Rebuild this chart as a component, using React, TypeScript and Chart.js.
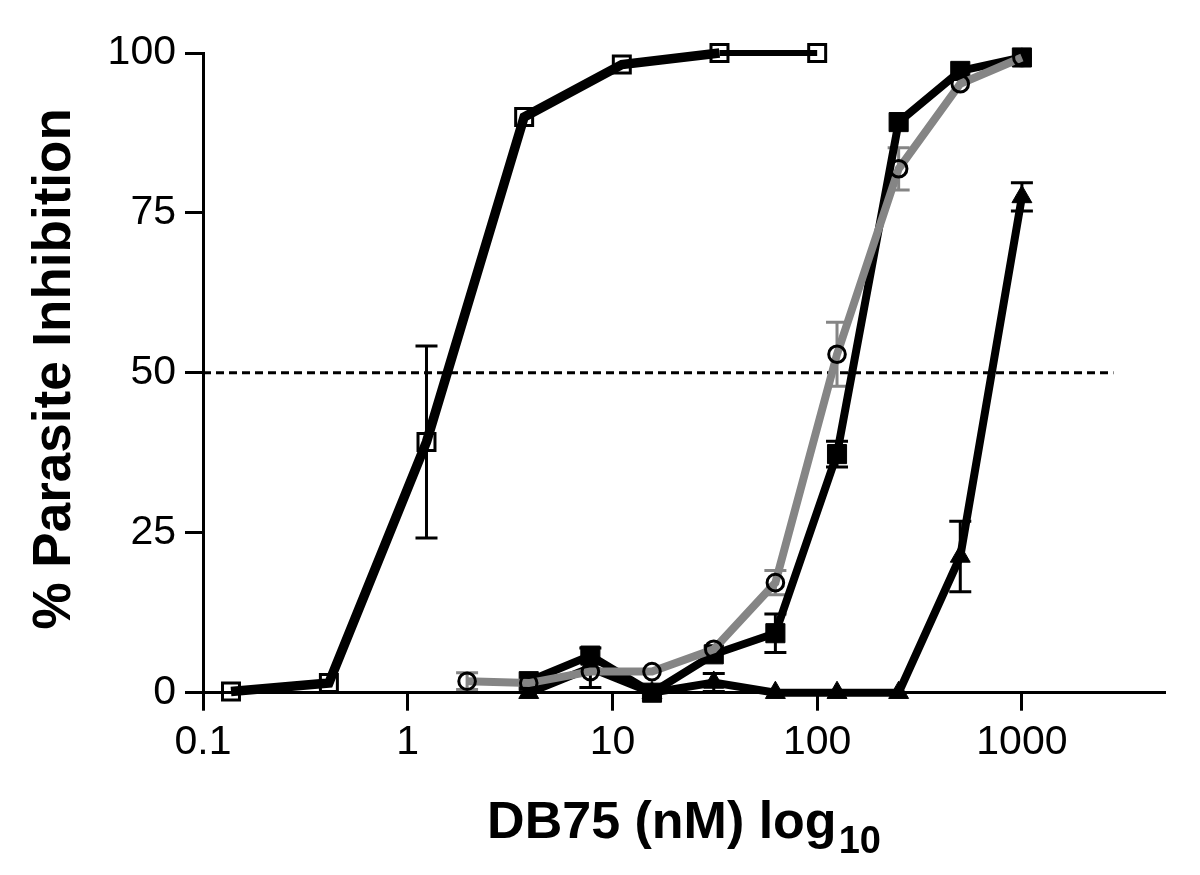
import React, { useEffect, useRef } from 'react';
import { Chart, registerables } from 'chart.js';

Chart.register(...registerables);

// ---- tick labels ----
const xTickValues = [0.1, 1, 10, 100, 1000];
const yTickValues = [0, 25, 50, 75, 100];

// ---- titles ----
const xTitleMain = 'DB75 (nM) log';
const xTitleSub = '10';
const yTitle = '% Parasite Inhibition';

// ---- series: open squares ----
const openSqDose = [0.137, 0.412, 1.235, 3.704, 11.11, 33.33, 100];
const openSqValue = [0.2, 1.5, 39.2, 90, 98.2, 100, 100];
const openSqSD = [0, 0, 15, 0, 0, 0, 0];

// ---- series: grey open circles ----
const circleDose = [1.95, 3.9, 7.8, 15.6, 31.25, 62.5, 125, 250, 500, 1000];
const circleValue = [1.8, 1.5, 3.3, 3.3, 6.8, 17.2, 52.9, 81.9, 95.2, 99.3];
const circleSD = [1.3, 0, 0, 0, 0, 1.9, 5, 3.3, 0, 0];

// ---- series: filled squares ----
const filledSqDose = [3.9, 7.8, 15.6, 31.25, 62.5, 125, 250, 500, 1000];
const filledSqValue = [1.8, 5.8, 0, 6, 9.3, 37.3, 89.2, 97.2, 99.3];
const filledSqSD = [0, 0, 0, 0, 3, 2, 0, 0, 0];

// ---- series: filled triangles ----
const triDose = [3.9, 7.8, 15.6, 31.25, 62.5, 125, 250, 500, 1000];
const triValue = [0, 3.9, 0, 1.6, 0, 0, 0, 21.3, 77.5];
const triSD = [0, 3.1, 0, 1.4, 0, 0, 0, 5.5, 2.2];

// ---- 50% reference line ----
const refLineX = [0.1, 2800];
const refLineY = [50, 50];

const FONT = '"Liberation Sans", Arial, Helvetica, sans-serif';
const GREY = '#858585';

const pts = (xs: number[], ys: number[]) => xs.map((x, i) => ({ x, y: ys[i] }));

const errorBarPlugin = {
  id: 'errorBars',
  beforeDatasetsDraw(chart: any) {
    const { ctx } = chart;
    const xs = chart.scales.x;
    const ys = chart.scales.y;
    ctx.save();
    chart.data.datasets.forEach((ds: any) => {
      if (!ds.errorBars) return;
      ctx.strokeStyle = ds.borderColor;
      ctx.lineWidth = 3;
      ds.data.forEach((p: any, i: number) => {
        const sd = ds.errorBars[i];
        if (!sd) return;
        const x = xs.getPixelForValue(p.x);
        const yT = ys.getPixelForValue(p.y + sd);
        const yB = ys.getPixelForValue(p.y - sd);
        ctx.beginPath();
        ctx.moveTo(x, yT);
        ctx.lineTo(x, yB);
        ctx.moveTo(x - 11, yT);
        ctx.lineTo(x + 11, yT);
        ctx.moveTo(x - 11, yB);
        ctx.lineTo(x + 11, yB);
        ctx.stroke();
      });
    });
    ctx.restore();
  },
};

const titlePlugin = {
  id: 'titles',
  afterDraw(chart: any) {
    const { ctx, chartArea } = chart;
    ctx.save();
    ctx.fillStyle = '#000';
    ctx.textAlign = 'left';
    ctx.textBaseline = 'alphabetic';
    ctx.font = `bold 52px ${FONT}`;
    const w1 = ctx.measureText(xTitleMain).width;
    ctx.font = `bold 38px ${FONT}`;
    const w2 = ctx.measureText(xTitleSub).width;
    const cx = (chartArea.left + chartArea.right) / 2;
    const x0 = cx - (w1 + w2 + 2) / 2;
    ctx.font = `bold 52px ${FONT}`;
    ctx.fillText(xTitleMain, x0, chartArea.bottom + 145);
    ctx.font = `bold 38px ${FONT}`;
    ctx.fillText(xTitleSub, x0 + w1 + 2, chartArea.bottom + 160);

    ctx.translate(70, (chartArea.top + chartArea.bottom) / 2 - 4);
    ctx.rotate(-Math.PI / 2);
    ctx.textAlign = 'center';
    ctx.font = `bold 53px ${FONT}`;
    ctx.fillText(yTitle, 0, 0);
    ctx.restore();
  },
};

export default function App() {
  const ref = useRef<HTMLCanvasElement>(null);

  useEffect(() => {
    const canvas = ref.current;
    if (!canvas) return;
    const tickFont = { family: FONT, size: 41 };
    const chart = new Chart(canvas, {
      type: 'line',
      data: {
        datasets: [
          {
            label: 'circles',
            data: pts(circleDose, circleValue),
            borderColor: GREY,
            borderWidth: 8,
            pointStyle: 'circle',
            pointRadius: 8.3,
            pointBorderWidth: 3,
            pointBorderColor: '#000',
            pointBackgroundColor: 'rgba(0,0,0,0)',
            clip: false,
            errorBars: circleSD,
          } as any,
          {
            label: 'filled squares',
            data: pts(filledSqDose, filledSqValue),
            borderColor: '#000',
            borderWidth: 8,
            pointStyle: 'rect',
            pointRadius: 13.5,
            pointBorderWidth: 1,
            pointBorderColor: '#000',
            pointBackgroundColor: '#000',
            clip: false,
            errorBars: filledSqSD,
          } as any,
          {
            label: 'triangles',
            data: pts(triDose, triValue),
            borderColor: '#000',
            borderWidth: 8,
            pointStyle: 'triangle',
            pointRadius: 11.5,
            pointBorderWidth: 1,
            pointBorderColor: '#000',
            pointBackgroundColor: '#000',
            clip: false,
            errorBars: triSD,
          } as any,
          {
            label: 'open squares',
            data: pts(openSqDose, openSqValue),
            borderColor: '#000',
            borderWidth: 9.5,
            segment: {
              borderWidth: (c: any) => (c.p0DataIndex === openSqDose.length - 2 ? 6 : 9.5),
            },
            pointStyle: 'rect',
            pointRadius: 12,
            pointBorderWidth: 3,
            pointBorderColor: '#000',
            pointBackgroundColor: 'rgba(0,0,0,0)',
            clip: false,
            errorBars: openSqSD,
          } as any,
          {
            label: '50%',
            data: pts(refLineX, refLineY),
            borderColor: '#000',
            borderWidth: 3,
            borderDash: [8, 5],
            pointRadius: 0,
            clip: false,
          } as any,
        ],
      },
      options: {
        animation: false,
        responsive: false,
        layout: { padding: { top: 53, right: 35, left: 0, bottom: 0 } },
        plugins: {
          legend: { display: false },
          tooltip: { enabled: false },
        },
        elements: {
          line: { borderJoinStyle: 'miter', borderCapStyle: 'butt', tension: 0 },
        },
        scales: {
          x: {
            type: 'logarithmic',
            min: 0.1,
            max: 5000,
            afterBuildTicks: (s: any) => {
              s.ticks = xTickValues.map((v) => ({ value: v }));
            },
            afterFit: (s: any) => {
              s.height = 875 - 692.7;
            },
            ticks: {
              callback: (v: any) => String(v),
              autoSkip: false,
              maxRotation: 0,
              minRotation: 0,
              color: '#000',
              font: tickFont,
              padding: 7,
            },
            grid: {
              drawOnChartArea: false,
              drawTicks: true,
              tickLength: 18,
              tickWidth: 3,
              tickColor: '#000',
            },
            border: { display: true, color: '#000', width: 3 },
          },
          y: {
            type: 'linear',
            min: 0,
            max: 100,
            afterBuildTicks: (s: any) => {
              s.ticks = yTickValues.map((v) => ({ value: v }));
            },
            afterFit: (s: any) => {
              s.width = 203;
            },
            ticks: {
              callback: (v: any) => String(v),
              autoSkip: false,
              color: '#000',
              font: tickFont,
              padding: 9,
            },
            grid: {
              drawOnChartArea: false,
              drawTicks: true,
              tickLength: 18,
              tickWidth: 3,
              tickColor: '#000',
            },
            border: { display: true, color: '#000', width: 3 },
          },
        },
      } as any,
      plugins: [errorBarPlugin, titlePlugin],
    });
    return () => chart.destroy();
  }, []);

  return (
    <div style={{ position: 'absolute', left: 0, top: 0, width: 1200, height: 875, background: '#fff' }}>
      <canvas ref={ref} width={1200} height={875} style={{ display: 'block' }} />
    </div>
  );
}
